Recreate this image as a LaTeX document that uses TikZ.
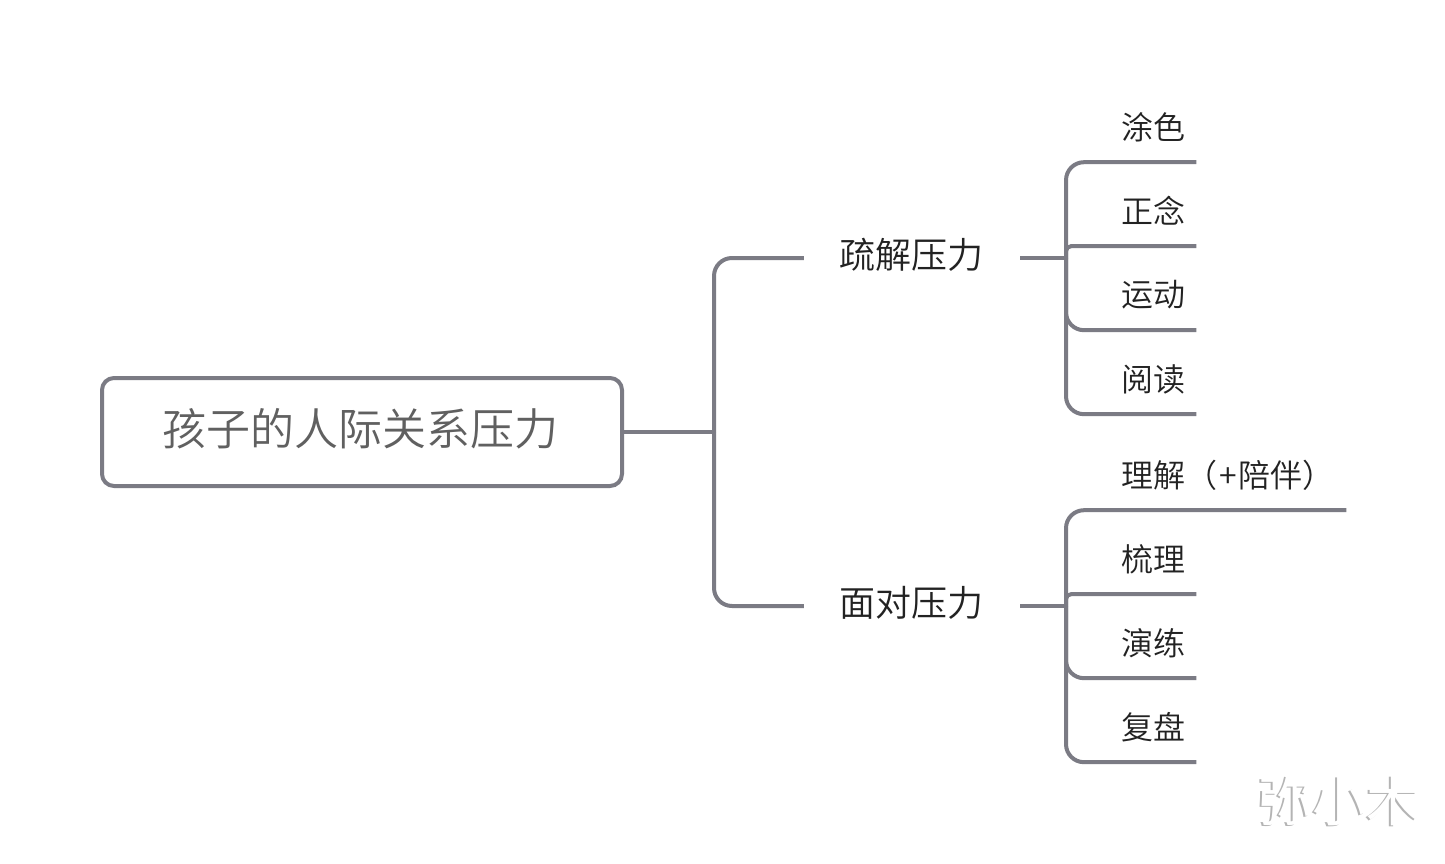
\documentclass[tikz,border=0pt]{standalone}
\usepackage{fontspec}
\setmainfont{Noto Sans CJK SC DemiLight}
\newfontfamily\wmfont{Noto Sans CJK SC}
\definecolor{linec}{HTML}{7B7B84}
\definecolor{roottext}{HTML}{606060}
\definecolor{leaftext}{HTML}{222222}
\definecolor{wmshadow}{HTML}{B4B4B4}
\tikzset{
  x=1pt,y=-1pt,
  conn/.style={draw=linec,line width=4pt},
  curved conn/.style={conn,rounded corners=18pt},
  tight conn/.style={conn,rounded corners=5pt},
  rootbox/.style={draw=linec,line width=4pt,rounded corners=12pt,minimum width=520pt,minimum height=108pt,inner sep=0pt},
  branchbox/.style={minimum width=216pt,minimum height=60pt,inner sep=0pt},
  branchtext/.style={inner sep=0pt,text=leaftext,font=\fontsize{36}{40}\selectfont},
  leafbox/.style={anchor=west,minimum height=70pt,inner xsep=9pt,inner ysep=0pt,align=left,text=leaftext,font=\fontsize{32}{36}\selectfont},
  wmtext/.style={inner sep=0pt,font=\wmfont\fontsize{54}{58}\selectfont},
}
\begin{document}
\begin{tikzpicture}
\useasboundingbox (0,0) rectangle (1445,864);
\fill[white] (0,0) rectangle (1445,864);
\node[rootbox] (root) at (362,432) {};
\node[inner sep=0pt,text=roottext,font=\fontsize{44}{48}\selectfont] (roottxt) at (360,429) {孩子的人际关系压力};
\node[branchbox] (b1) at (912,258) {};
\node[branchtext] (b1t) at (911,255) {疏解压力};
\node[branchbox] (b2) at (912,606) {};
\node[branchtext] (b2t) at (911,603) {面对压力};
\node[leafbox,text width=66pt] (l1) at (1112,127) {涂色};
\node[leafbox,text width=66pt] (l2) at (1112,211) {正念};
\node[leafbox,text width=66pt] (l3) at (1112,295) {运动};
\node[leafbox,text width=66pt] (l4) at (1112,379) {阅读};
\node[leafbox,text width=216pt] (m1) at (1112,475) {理解（\hspace{2pt}+\hspace{2pt}陪伴）};
\node[leafbox,text width=66pt] (m2) at (1112,559) {梳理};
\node[leafbox,text width=66pt] (m3) at (1112,643) {演练};
\node[leafbox,text width=66pt] (m4) at (1112,727) {复盘};
\coordinate (t0) at (714,432);
\coordinate (t1) at (1066,258);
\coordinate (t2) at (1066,606);
\draw[conn] (root.east) -- (t0);
\draw[curved conn] (t0) |- (b1.west);
\draw[curved conn] (t0) |- (b2.west);
\draw[conn] (b1.east) -- (t1);
\draw[conn] (b2.east) -- (t2);
\foreach \n in {l1,l3,l4} {\draw[curved conn] (t1) |- (\n.south east);}
\draw[tight conn] (t1) |- (l2.south east);
\foreach \n in {m1,m3,m4} {\draw[curved conn] (t2) |- (\n.south east);}
\draw[tight conn] (t2) |- (m2.south east);
\node[wmtext,text=wmshadow] (wa) at (1337,802) {弥小木};
\node[wmtext,text=white] (wb) at (1339.5,801) {弥小木};
\end{tikzpicture}
\end{document}
